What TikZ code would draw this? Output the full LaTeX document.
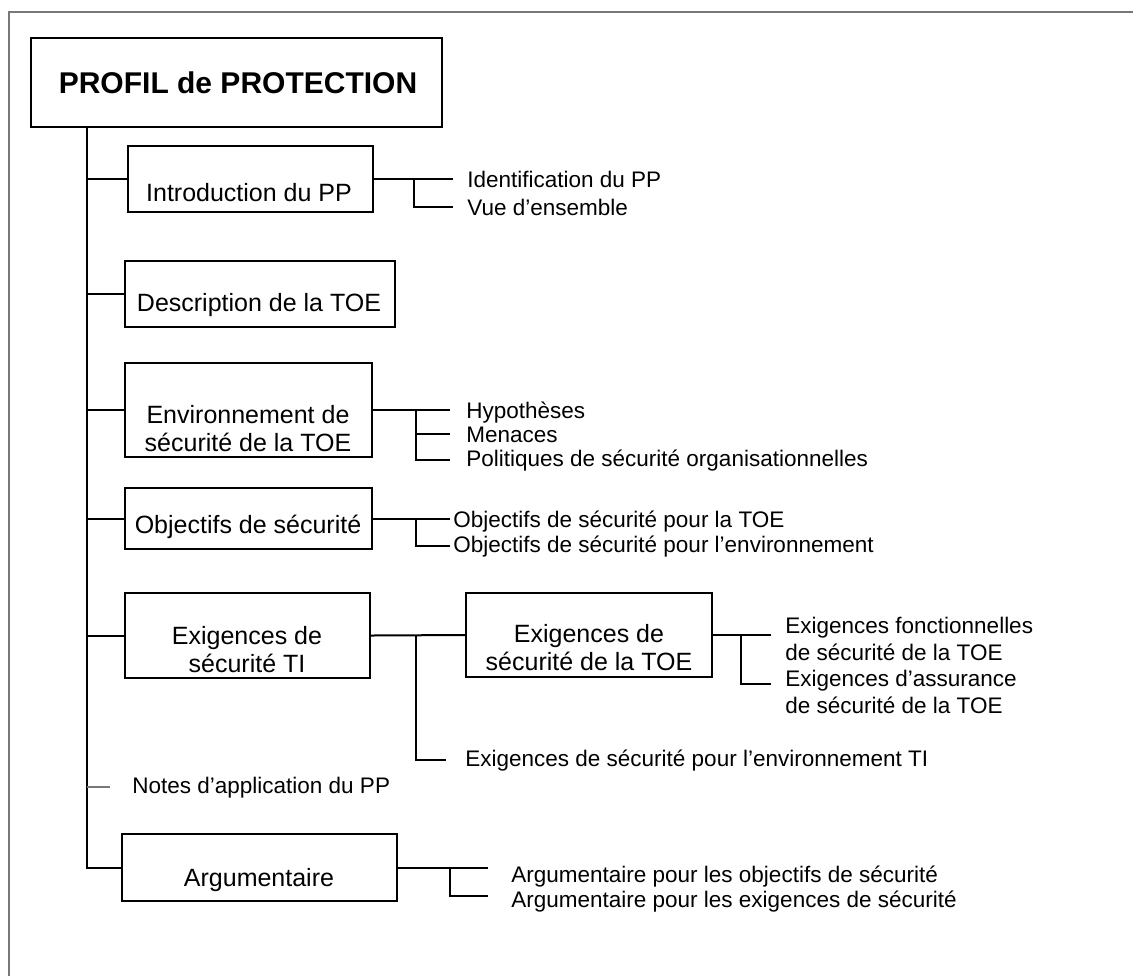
\documentclass[tikz,border=0pt]{standalone}
\usepackage{fontspec}
\setmainfont{Liberation Sans}
\usepackage{xcolor}
\usetikzlibrary{positioning,calc}
\definecolor{framegray}{RGB}{120,120,120}

\begin{document}
\begin{tikzpicture}[x=0.5pt,y=-0.5pt,
  box/.style={draw,line width=1pt,inner sep=0pt},
  boxtxt/.style={font=\fontsize{12.5}{14}\selectfont,align=center,inner sep=0pt},
  item/.style={font=\fontsize{11.25}{13.5}\selectfont,anchor=base west,inner sep=0pt},
  item2/.style={font=\fontsize{11.25}{13.5}\selectfont,anchor=west,align=left,inner sep=0pt},
  wire/.style={line width=1pt}]
  \useasboundingbox (0,0) rectangle (1133,976);
  % outer frame
  \draw[framegray,line width=1pt] (9,976) -- (9,12) -- (1133,12);
  % title
  \node[box,minimum width=205.5pt,minimum height=44.5pt] (title) at (236.5,82.5) {};
  \node[font=\fontsize{15}{18}\selectfont\bfseries,inner sep=0pt] (titletxt) at (238,83) {PROFIL de PROTECTION};
  \coordinate (trunk) at ([xshift=28.5pt]title.south west);
  % introduction
  \node[box,minimum width=122.5pt,minimum height=33pt] (intro) at (250.5,179) {};
  \node[boxtxt] (introtxt) at (249,193) {Introduction du PP};
  \node[item] (ident) at (467,187) {Identification du PP};
  \node[item] (vue) at (467,215) {Vue d’ensemble};
  % description
  \node[box,minimum width=135pt,minimum height=33pt] (desc) at (260,294) {};
  \node[boxtxt] (desctxt) at (259,305) {Description de la TOE};
  % environnement
  \node[box,minimum width=123.5pt,minimum height=47pt] (env) at (248.5,410) {};
  \node[boxtxt] (envtxt) at (248,429) {Environnement de\\sécurité de la TOE};
  \node[item] (hyp) at (466,418) {Hypothèses};
  \node[item] (men) at (466,442) {Menaces};
  \node[item] (pol) at (466,466) {Politiques de sécurité organisationnelles};
  % objectifs
  \node[box,minimum width=123.5pt,minimum height=30.5pt] (obj) at (248.5,518.5) {};
  \node[boxtxt] (objtxt) at (248,527) {Objectifs de sécurité};
  \node[item] (objtoe) at (453,527) {Objectifs de sécurité pour la TOE};
  \node[item] (objenv) at (453,552) {Objectifs de sécurité pour l’environnement};
  % exigences
  \node[box,minimum width=122.5pt,minimum height=42.5pt] (exti) at (247.5,635.5) {};
  \node[boxtxt] (extitxt) at (247,650) {Exigences de\\sécurité TI};
  \node[box,minimum width=123pt,minimum height=42pt] (extoe) at (589,635) {};
  \node[boxtxt] (extoetxt) at (589,647.5) {Exigences de\\sécurité de la TOE};
  \node[item2] (fonc) at (785,638.5) {Exigences fonctionnelles\\de sécurité de la TOE};
  \node[item2] (assur) at (785,692) {Exigences d’assurance\\de sécurité de la TOE};
  \node[item] (envti) at (465,766) {Exigences de sécurité pour l’environnement TI};
  % notes
  \node[item] (notes) at (132,793) {Notes d’application du PP};
  % argumentaire
  \node[box,minimum width=137.5pt,minimum height=33.5pt] (argu) at (259.5,867.5) {};
  \node[boxtxt] (argutxt) at (259,880) {Argumentaire};
  \node[item] (argobj) at (511,882) {Argumentaire pour les objectifs de sécurité};
  \node[item] (argexi) at (511,907) {Argumentaire pour les exigences de sécurité};
  % trunk and branches
  \draw[wire] (trunk) |- (argu.west);
  \foreach \b in {intro,desc,env,obj,exti}
    \draw[wire] (\b.west) -- (\b.west -| trunk);
  \draw[framegray,line width=0.75pt] (notes.west -| trunk) -- ([xshift=-11pt]notes.west);
  % sub-items
  \draw[wire] (intro.east) -- ([xshift=-7pt]intro.east -| ident.west);
  \draw[wire] ([xshift=20pt]intro.east) |- ([xshift=-7pt]vue.west);
  \draw[wire] (env.east) -- ([xshift=-8pt]env.east -| hyp.west);
  \draw[wire] ([xshift=21.5pt]env.east) |- ([xshift=-8pt]pol.west);
  \draw[wire] ([xshift=21.5pt]env.east |- men.west) -- ([xshift=-8pt]men.west);
  \draw[wire] (obj.east) -- ([xshift=-1.5pt]obj.east -| objtoe.west);
  \draw[wire] ([xshift=21.5pt]obj.east) |- ([xshift=-1.5pt]objenv.west);
  \draw[wire] (exti.east) -- (extoe.west);
  \draw[wire] ([xshift=22.5pt]exti.east) |- ([xshift=-9.5pt]envti.west);
  \draw[wire] (extoe.east) -- ([xshift=-7pt]extoe.east -| fonc.west);
  \draw[wire] ([xshift=14pt]extoe.east) |- ([xshift=-7pt,yshift=4pt]assur.west);
  \draw[wire] (argu.east) -- ([xshift=-11.5pt]argu.east -| argobj.west);
  \draw[wire] ([xshift=26pt]argu.east) |- ([xshift=-11.5pt,yshift=2.5pt]argexi.west);
\end{tikzpicture}
\end{document}
